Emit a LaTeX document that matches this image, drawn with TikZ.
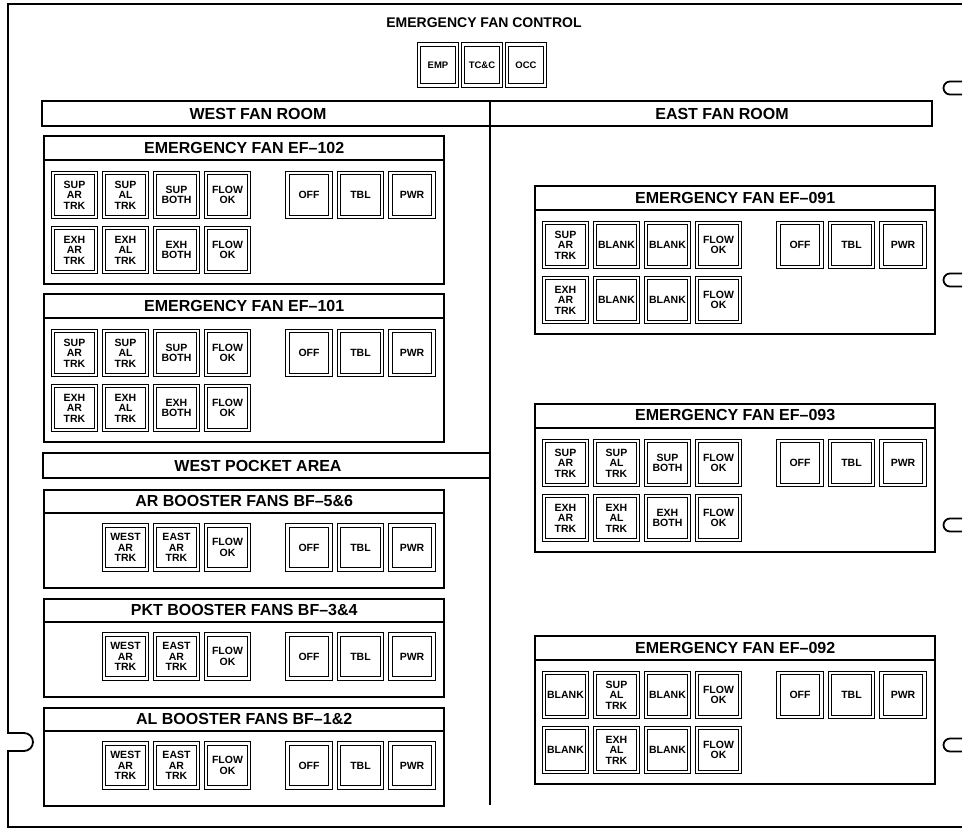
\documentclass[tikz,border=0pt]{standalone}
\usepackage{fontspec}
\setmainfont{Liberation Sans}
\usepackage{tikz}
\usetikzlibrary{calc,positioning}
\tikzset{
  frame/.style={line width=1.8pt},
  bar/.style={draw, line width=2.2pt},
  panel/.style={draw, line width=2.4pt, minimum width=400pt, anchor=north west, inner sep=0pt},
  strip/.style={line width=1.6pt},
  ttl/.style={font=\bfseries\fontsize{16}{16}\selectfont, inner sep=0pt},
  btn/.style={draw, double, line width=1pt, double distance=2.2pt, minimum width=43pt,
    minimum height=44pt, inner sep=0pt, align=center, font=\bfseries\fontsize{10.5}{10.5}\selectfont},
}

\begin{document}
\begin{tikzpicture}[x=1pt, y=-1pt]
\useasboundingbox (0,0) rectangle (962,829);
% Outer frame with its notches
\draw[frame] (962,4) -- (8,4) -- (8,733) -- (24,733) arc[start angle=90, end angle=-90, radius=9pt]
  -- (8,751) -- (8,827) -- (962,827);
\foreach \ny in {88,280,525,745}{
  \draw[frame] (962,\ny-6.5) -- (950,\ny-6.5) arc[start angle=90, end angle=270, radius=6.5pt] -- (962,\ny+6.5);
}
% Emergency fan control
\node[ttl, font=\bfseries\fontsize{14}{14}\selectfont] (ctl) at (484,23) {EMERGENCY FAN CONTROL};
\foreach \lbl [count=\k] in {EMP,TC\&C,OCC}{
  \node[btn, minimum width=38pt, minimum height=41pt, font=\bfseries\fontsize{9.5}{10}\selectfont] (ctl\k) at (394+44*\k,65) {\lbl};
}
% Fan room bars and divider
\draw[bar] (42,101) rectangle (490,126);
\draw[bar] (490,101) rectangle (932,126);
\draw[bar] (43,453) rectangle (490,478);
\draw[bar] (490,126) -- (490,805);
\node[ttl] (west) at (258,113.5) {WEST FAN ROOM};
\node[ttl] (east) at (722,113.5) {EAST FAN ROOM};
\node[ttl] (pocket) at (258,465.5) {WEST POCKET AREA};
% Emergency fan panels
\foreach \nm/\px/\py/\ttl/\ra/\rb in {
  ef102/43/135/{EMERGENCY FAN EF--102}/{{SUP\\AR\\TRK},{SUP\\AL\\TRK},{SUP\\BOTH},{FLOW\\OK}}/{{EXH\\AR\\TRK},{EXH\\AL\\TRK},{EXH\\BOTH},{FLOW\\OK}},
  ef101/43/293/{EMERGENCY FAN EF--101}/{{SUP\\AR\\TRK},{SUP\\AL\\TRK},{SUP\\BOTH},{FLOW\\OK}}/{{EXH\\AR\\TRK},{EXH\\AL\\TRK},{EXH\\BOTH},{FLOW\\OK}},
  ef091/534/185/{EMERGENCY FAN EF--091}/{{SUP\\AR\\TRK},BLANK,BLANK,{FLOW\\OK}}/{{EXH\\AR\\TRK},BLANK,BLANK,{FLOW\\OK}},
  ef093/534/403/{EMERGENCY FAN EF--093}/{{SUP\\AR\\TRK},{SUP\\AL\\TRK},{SUP\\BOTH},{FLOW\\OK}}/{{EXH\\AR\\TRK},{EXH\\AL\\TRK},{EXH\\BOTH},{FLOW\\OK}},
  ef092/534/635/{EMERGENCY FAN EF--092}/{BLANK,{SUP\\AL\\TRK},BLANK,{FLOW\\OK}}/{BLANK,{EXH\\AL\\TRK},BLANK,{FLOW\\OK}}}{
  \node[panel, minimum height=148pt] (\nm) at (\px,\py) {};
  \draw[strip] ([yshift=-25pt]\nm.north west) -- ([yshift=-25pt]\nm.north east);
  \node[ttl] (\nm-t) at ([yshift=-12.5pt]\nm.north) {\ttl};
  \begin{scope}[shift={(\nm.north west)}]
    \foreach \lbl [count=\k] in \ra
      \node[btn] (\nm-a\k) at (-19.5+51*\k,60) {\lbl};
    \foreach \lbl [count=\k] in \rb
      \node[btn] (\nm-b\k) at (-19.5+51*\k,115) {\lbl};
    \foreach \lbl [count=\k] in {OFF,TBL,PWR}
      \node[btn] (\nm-r\k) at (214.5+51.5*\k,60) {\lbl};
  \end{scope}
}
% Booster fan panels
\foreach \nm/\py/\ttl in {bf56/489/{AR BOOSTER FANS BF--5\&6}, bf34/598/{PKT BOOSTER FANS BF--3\&4},
  bf12/707/{AL BOOSTER FANS BF--1\&2}}{
  \node[panel, minimum height=98pt] (\nm) at (43,\py) {};
  \draw[strip] ([yshift=-24pt]\nm.north west) -- ([yshift=-24pt]\nm.north east);
  \node[ttl] (\nm-t) at ([yshift=-12pt]\nm.north) {\ttl};
  \begin{scope}[shift={(\nm.north west)}]
    \foreach \lbl [count=\k] in {{WEST\\AR\\TRK},{EAST\\AR\\TRK},{FLOW\\OK}}
      \node[btn] (\nm-a\k) at (31.5+51*\k,58.5) {\lbl};
    \foreach \lbl [count=\k] in {OFF,TBL,PWR}
      \node[btn] (\nm-r\k) at (214.5+51.5*\k,58.5) {\lbl};
  \end{scope}
}
\end{tikzpicture}
\end{document}
